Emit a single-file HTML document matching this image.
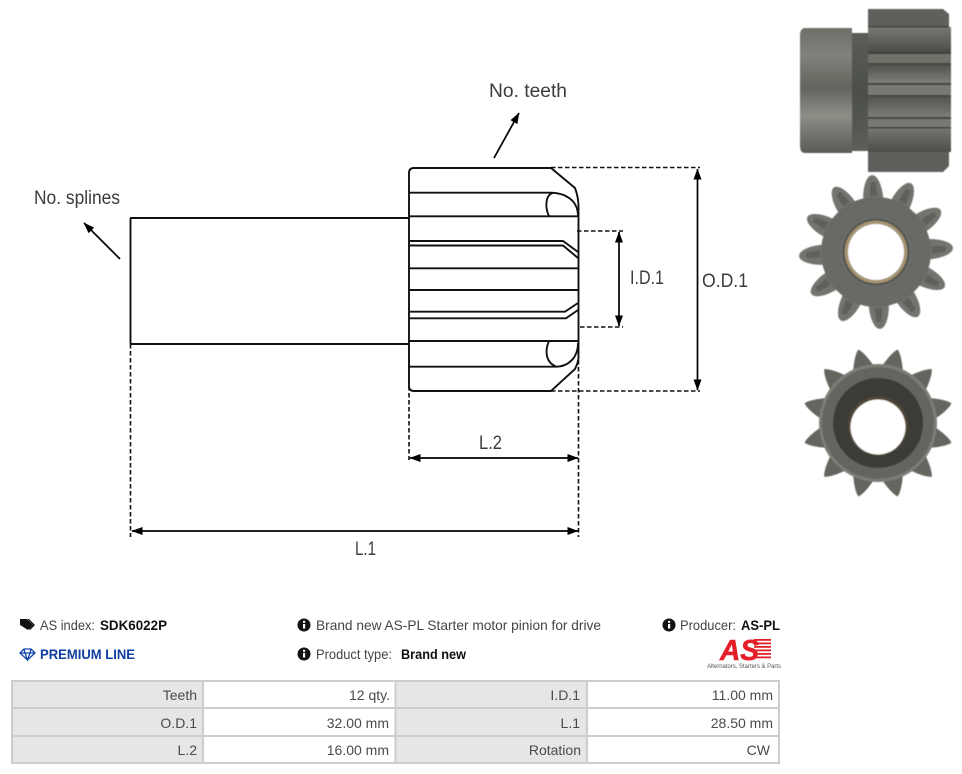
<!DOCTYPE html>
<html><head><meta charset="utf-8"><style>
html,body{margin:0;padding:0;background:#fff;width:962px;height:774px;overflow:hidden}
svg{display:block}
text{font-family:"Liberation Sans",sans-serif}
.d{font-size:19px;fill:#3c3c3c}
.t{font-size:14px;fill:#444}
.b{font-size:14px;font-weight:bold;fill:#111}
.c{font-size:14px;fill:#4a4a4a;text-anchor:end}
</style></head><body>
<svg width="962" height="774" viewBox="0 0 962 774" xmlns="http://www.w3.org/2000/svg">
<defs>
<marker id="a" viewBox="0 0 11 8" refX="10.500" refY="4" markerWidth="11" markerHeight="8" orient="auto-start-reverse" markerUnits="userSpaceOnUse"><path d="M0 0L11 4L0 8z" fill="#000"/></marker>
<filter id="s" x="-5%" y="-5%" width="110%" height="110%"><feGaussianBlur stdDeviation="0.6"/></filter>
<linearGradient id="col" x1="0" y1="0" x2="0" y2="1"><stop offset="0" stop-color="#6d6f68"/><stop offset=".22" stop-color="#80827b"/><stop offset=".48" stop-color="#62645d"/><stop offset=".7" stop-color="#8c8e87"/><stop offset="1" stop-color="#595b55"/></linearGradient>
<linearGradient id="neck" x1="0" y1="0" x2="0" y2="1"><stop offset="0" stop-color="#5b5d57"/><stop offset=".5" stop-color="#4c4e49"/><stop offset="1" stop-color="#5d5f59"/></linearGradient>
<linearGradient id="d1" x1="0" y1="0" x2="0" y2="1"><stop offset="0" stop-color="#777972"/><stop offset="1" stop-color="#4b4d48"/></linearGradient>
<linearGradient id="d2" x1="0" y1="0" x2="0" y2="1"><stop offset="0" stop-color="#4f514c"/><stop offset="1" stop-color="#7c7e77"/></linearGradient>
<g id="t1"><path d="M-10-53C-10-64-6-77 0-77C6-77 10-64 10-53Z" fill="#72746d"/><path d="M-3-56L-2-70L3-70L5-56Z" fill="#5e605a"/></g>
<path id="t2" d="M-11-55C-8-65-3-74 0-76C3-74 8-65 11-55Z" fill="#63655f"/>
</defs>

<!-- drawing -->
<g fill="none" stroke="#111" stroke-width="1.900">
<path d="M130 218H409M130 344H409"/>
<path d="M130.500 218V344"/>
<path d="M414 168H551L575 188Q578 196 578.500 205V358Q578 363 575 369L551 391H414Q409 391 409 386V173Q409 168 414 168Z"/>
<path d="M409 192.700H550C565 192.700 578 200 578 216M409 216.300H578"/>
<path d="M553 193C545 195 545 208 549 216"/>
<path d="M409 241H563L578 252M409 245.500H563L578 258"/>
<path d="M409 268.300H578M409 290H578"/>
<path d="M409 311.700H565L578 303M409 318.300H566L578 310"/>
<path d="M409 341H578M409 366.700H556C568 366.700 578 358 578 343"/>
<path d="M549 341C545 350 545 362 556 366.500"/>
</g>
<g fill="none" stroke="#111" stroke-width="1.600" stroke-dasharray="4.500 2.500">
<path d="M551 167.500H700M551 391H700M577 231H623M580 327H623"/>
<path d="M130.500 344V537M409 344V460M578.500 360V537"/>
</g>
<g stroke="#000" stroke-width="1.700" fill="none">
<path d="M697.500 169V390" marker-start="url(#a)" marker-end="url(#a)"/>
<path d="M619 232V326" marker-start="url(#a)" marker-end="url(#a)"/>
<path d="M410 458H578" marker-start="url(#a)" marker-end="url(#a)"/>
<path d="M132 531H578" marker-start="url(#a)" marker-end="url(#a)"/>
<path d="M494 158L519 113" marker-end="url(#a)"/>
<path d="M120 259L84 223" marker-end="url(#a)"/>
</g>
<text class="d" x="489" y="97" textLength="78" lengthAdjust="spacingAndGlyphs">No. teeth</text>
<text class="d" x="34" y="204" textLength="86" lengthAdjust="spacingAndGlyphs">No. splines</text>
<text class="d" x="630" y="284" textLength="34" lengthAdjust="spacingAndGlyphs">I.D.1</text>
<text class="d" x="702" y="287" textLength="46" lengthAdjust="spacingAndGlyphs">O.D.1</text>
<text class="d" x="479" y="449" textLength="23" lengthAdjust="spacingAndGlyphs">L.2</text>
<text class="d" x="355" y="555" textLength="21" lengthAdjust="spacingAndGlyphs">L.1</text>

<!-- photo 1 side view -->
<g filter="url(#s)">
<rect x="850" y="33" width="20" height="118" rx="3" fill="url(#neck)"/>
<path d="M868 9H943L949 14V27H951V150H949V166L943 172H868Z" fill="#5f615b"/>
<rect x="868" y="27" width="83" height="25" fill="url(#d1)"/>
<rect x="868" y="52" width="83" height="12" fill="#70726b"/>
<rect x="868" y="64" width="83" height="19" fill="url(#d2)"/>
<rect x="868" y="83" width="83" height="12" fill="#777972"/>
<rect x="868" y="95" width="83" height="22" fill="url(#d2)"/>
<rect x="868" y="117" width="83" height="10" fill="#777972"/>
<rect x="868" y="127" width="83" height="25" fill="url(#d1)"/>
<g fill="#3f413c">
<rect x="868" y="26" width="81" height="1.500"/>
<rect x="868" y="52" width="83" height="2"/>
<rect x="868" y="63" width="83" height="1.500"/>
<rect x="868" y="83" width="83" height="2"/>
<rect x="868" y="95" width="83" height="1.500"/>
<rect x="868" y="117" width="83" height="2"/>
<rect x="868" y="127" width="83" height="1.500"/>
</g>
<path d="M804 28Q800 29 800 36V146Q800 152 804 153H852V28Z" fill="url(#col)"/>
</g>

<!-- photo 2 front view -->
<g filter="url(#s)">
<g transform="translate(876 252) rotate(-3)">
<use href="#t1"/><use href="#t1" transform="rotate(30)"/><use href="#t1" transform="rotate(60)"/><use href="#t1" transform="rotate(90)"/><use href="#t1" transform="rotate(120)"/><use href="#t1" transform="rotate(150)"/><use href="#t1" transform="rotate(180)"/><use href="#t1" transform="rotate(210)"/><use href="#t1" transform="rotate(240)"/><use href="#t1" transform="rotate(270)"/><use href="#t1" transform="rotate(300)"/><use href="#t1" transform="rotate(330)"/>
</g>
<circle cx="876" cy="252" r="55" fill="#696b65"/>
<circle cx="876" cy="252" r="33" fill="#4a4a42"/>
<circle cx="876" cy="252" r="31.500" fill="#a39372"/>
<circle cx="876" cy="252" r="28" fill="#fff"/>
</g>

<!-- photo 3 rear view -->
<g filter="url(#s)">
<g transform="translate(878 423) rotate(15)">
<use href="#t2"/><use href="#t2" transform="rotate(30)"/><use href="#t2" transform="rotate(60)"/><use href="#t2" transform="rotate(90)"/><use href="#t2" transform="rotate(120)"/><use href="#t2" transform="rotate(150)"/><use href="#t2" transform="rotate(180)"/><use href="#t2" transform="rotate(210)"/><use href="#t2" transform="rotate(240)"/><use href="#t2" transform="rotate(270)"/><use href="#t2" transform="rotate(300)"/><use href="#t2" transform="rotate(330)"/>
</g>
<circle cx="878" cy="423" r="59" fill="#7b7d76"/>
<circle cx="878" cy="423" r="56" fill="#63655f"/>
<circle cx="878" cy="423" r="45" fill="#3a3b38"/>
<circle cx="878" cy="426" r="30" fill="#4f4634"/>
<circle cx="878" cy="427" r="27.500" fill="#fff"/>
</g>

<!-- info -->
<g fill="#111">
<path d="M20 619H27L33 625L28 630L20 625Z"/>
<path d="M29 619L35 625L30 630L29 629L33 625L27.500 619Z"/>
<circle cx="304" cy="625" r="6.500"/><circle cx="304" cy="654" r="6.500"/><circle cx="669" cy="625" r="6.500"/>
</g>
<g fill="#fff">
<rect x="303" y="624" width="2.200" height="4.500"/><rect x="303" y="620.800" width="2.200" height="2"/>
<rect x="303" y="653" width="2.200" height="4.500"/><rect x="303" y="649.800" width="2.200" height="2"/>
<rect x="668" y="624" width="2.200" height="4.500"/><rect x="668" y="620.800" width="2.200" height="2"/>
</g>
<path d="M24 649H31L35 653L27.500 660L20 653ZM20 653H35M24 649L25 653L27.500 660L30 653L31 649" fill="none" stroke="#1546a8" stroke-width="1.300"/>
<text class="t" x="40" y="630" textLength="55" lengthAdjust="spacingAndGlyphs">AS index:</text>
<text class="b" x="100" y="630" textLength="67" lengthAdjust="spacingAndGlyphs">SDK6022P</text>
<text class="b" x="40" y="659" textLength="95" lengthAdjust="spacingAndGlyphs" style="fill:#0f3ea0">PREMIUM LINE</text>
<text class="t" x="316" y="630" textLength="285" lengthAdjust="spacingAndGlyphs">Brand new AS-PL Starter motor pinion for drive</text>
<text class="t" x="316" y="659" textLength="76" lengthAdjust="spacingAndGlyphs">Product type:</text>
<text class="b" x="401" y="659" textLength="65" lengthAdjust="spacingAndGlyphs">Brand new</text>
<text class="t" x="680" y="630" textLength="56" lengthAdjust="spacingAndGlyphs">Producer:</text>
<text class="b" x="741" y="630" textLength="39" lengthAdjust="spacingAndGlyphs">AS-PL</text>

<!-- logo -->
<g fill="#e3202a">
<rect x="754" y="639" width="17" height="1.800"/><rect x="754" y="642.500" width="17" height="1.800"/><rect x="754" y="646" width="17" height="1.800"/><rect x="754" y="649.500" width="17" height="1.800"/><rect x="754" y="653" width="17" height="1.800"/><rect x="754" y="656.500" width="17" height="1.800"/>
</g>
<text x="720" y="660" font-size="29" font-weight="bold" font-style="italic" fill="#e3202a" stroke="#e3202a" stroke-width=".6" textLength="39" lengthAdjust="spacingAndGlyphs">AS</text>
<text x="707" y="668" font-size="6.500" fill="#555" textLength="74" lengthAdjust="spacingAndGlyphs">Alternators, Starters &amp; Parts</text>

<!-- table -->
<rect x="12" y="681" width="767" height="82" fill="#fff"/>
<rect x="12" y="681" width="191" height="82" fill="#e6e6e6"/>
<rect x="395" y="681" width="192" height="82" fill="#e6e6e6"/>
<g stroke="#cdcdcd" stroke-width="2" fill="none">
<rect x="12" y="681" width="767" height="82"/>
<path d="M12 708H779M12 736H779M203 681V763M395.500 681V763M587 681V763"/>
</g>
<text class="c" x="197" y="700">Teeth</text>
<text class="c" x="390" y="700">12 qty.</text>
<text class="c" x="580" y="700">I.D.1</text>
<text class="c" x="773" y="700">11.00 mm</text>
<text class="c" x="197" y="728">O.D.1</text>
<text class="c" x="389" y="728">32.00 mm</text>
<text class="c" x="580" y="728">L.1</text>
<text class="c" x="773" y="728">28.50 mm</text>
<text class="c" x="197" y="755">L.2</text>
<text class="c" x="389" y="755">16.00 mm</text>
<text class="c" x="581" y="755">Rotation</text>
<text class="c" x="770" y="755">CW</text>
</svg>
</body></html>
